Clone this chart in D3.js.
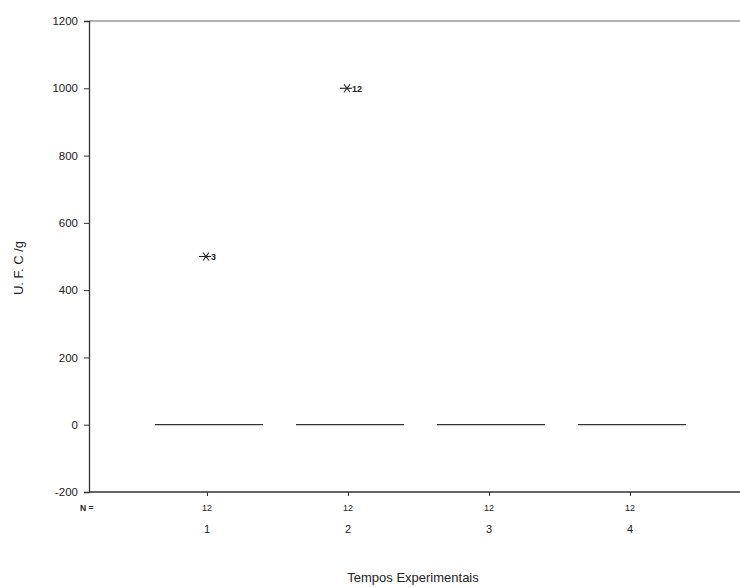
<!DOCTYPE html>
<html><head><meta charset="utf-8">
<script src="https://cdn.jsdelivr.net/npm/d3@7"></script>
<style>body{margin:0;background:#fff}svg{display:block}</style>
</head><body>
<svg id="c" width="740" height="587"></svg>
<script>
const categories = ["1","2","3","4"];
const nValues = [12,12,12,12];
const medians = [0,0,0,0];
const outlierValues = [500,1000,null,null];
const outlierLabels = ["3","12",null,null];
const yTicks = [-200,0,200,400,600,800,1000,1200];

const svg = d3.select("#c");
const font = "'Liberation Sans', Arial, sans-serif";
const y = d3.scaleLinear().domain([-200,1200]).range([492,21]);
const x = d3.scalePoint().domain(categories).range([207,630]);
const axisColor = "#333";

// top border
svg.append("line").attr("x1",89).attr("x2",740).attr("y1",21).attr("y2",21)
  .attr("stroke","#999").attr("stroke-width",1.5);

// y axis
const ya = svg.append("g").attr("transform","translate(89,0)")
  .call(d3.axisLeft(y).tickValues(yTicks).tickSize(5).tickPadding(6).tickFormat(d=>String(d)));
ya.select(".domain").attr("stroke",axisColor).attr("stroke-width",1.3);
ya.selectAll(".tick line").attr("stroke",axisColor);
ya.selectAll("text").attr("font-family",font).attr("font-size",11.5).attr("fill","#222");

// x axis line
svg.append("line").attr("x1",89).attr("x2",740).attr("y1",492).attr("y2",492)
  .attr("stroke",axisColor).attr("stroke-width",1.3);
const xa = svg.append("g").attr("transform","translate(0,492)")
  .call(d3.axisBottom(x).tickSize(4).tickFormat(""));
xa.select(".domain").remove();
xa.selectAll(".tick line").attr("stroke",axisColor);

// N labels
svg.append("text").attr("x",80).attr("y",511).attr("font-family",font)
  .attr("font-size",8.5).attr("font-weight","bold").attr("fill","#222").text("N =");
svg.selectAll(".nlab").data(categories).enter().append("text")
  .attr("x",d=>x(d)).attr("y",511).attr("text-anchor","middle")
  .attr("font-family",font).attr("font-size",9).attr("fill","#222")
  .text((d,i)=>nValues[i]);
// category labels
svg.selectAll(".clab").data(categories).enter().append("text")
  .attr("x",d=>x(d)).attr("y",533).attr("text-anchor","middle")
  .attr("font-family",font).attr("font-size",11).attr("fill","#222").text(d=>d);

// medians (boxes collapsed)
svg.selectAll(".med").data(categories).enter().append("line")
  .attr("x1",d=>x(d)-52).attr("x2",d=>x(d)+56)
  .attr("y1",(d,i)=>y(medians[i])).attr("y2",(d,i)=>y(medians[i]))
  .attr("stroke","#333").attr("stroke-width",1.3);

// extreme outliers
categories.forEach((c,i)=>{
  if(outlierValues[i]==null) return;
  const cx = x(c)-1, cy = y(outlierValues[i]);
  const g = svg.append("g").attr("stroke","#222").attr("stroke-width",1.1);
  g.append("line").attr("x1",cx-7).attr("x2",cx+5).attr("y1",cy).attr("y2",cy);
  g.append("line").attr("x1",cx-3).attr("x2",cx+3).attr("y1",cy-4).attr("y2",cy+4);
  g.append("line").attr("x1",cx-3).attr("x2",cx+3).attr("y1",cy+4).attr("y2",cy-4);
  svg.append("text").attr("x",cx+5).attr("y",cy+3.5).attr("font-family",font)
    .attr("font-size",9).attr("font-weight","bold").attr("fill","#222").text(outlierLabels[i]);
});

// axis titles
svg.append("text").attr("x",413).attr("y",582).attr("text-anchor","middle")
  .attr("font-family",font).attr("font-size",13).attr("fill","#222").text("Tempos Experimentais");
svg.append("text").attr("transform","translate(23,268) rotate(-90)").attr("text-anchor","middle")
  .attr("font-family",font).attr("font-size",13).attr("fill","#222").text("U. F. C /g");
</script>
</body></html>
